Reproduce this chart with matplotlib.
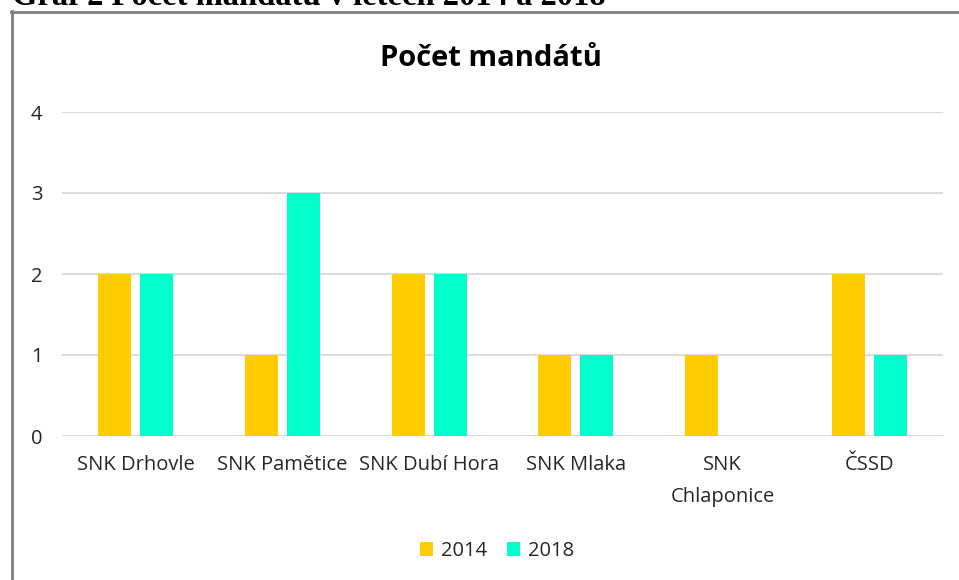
import matplotlib
matplotlib.use("Agg")
import matplotlib.pyplot as plt
import numpy as np

plt.rcParams['font.family'] = ['Open Sans', 'DejaVu Sans']

categories = ["SNK Drhovle", "SNK Pamětice", "SNK Dubí Hora", "SNK Mlaka", "SNK\nChlaponice", "ČSSD"]
values_2014 = [2, 1, 2, 1, 1, 2]
values_2018 = [2, 3, 2, 1, 0, 1]
series_labels = ["2014", "2018"]
y_ticks = [0, 1, 2, 3, 4]

fig = plt.figure(figsize=(9.59, 5.8), dpi=100)
W, H = 959, 580

# outer frame (left and top border visible)
fig.add_artist(plt.Line2D([11.5 / W, 11.5 / W], [0, 1 - 11 / H], color='#7f7f7f', lw=2, transform=fig.transFigure))
fig.add_artist(plt.Line2D([11 / W, 1], [1 - 11.5 / H, 1 - 11.5 / H], color='#7f7f7f', lw=2, transform=fig.transFigure))

# cut-off caption at top
fig.text(12 / W, 1 - 5 / H, "Graf 2 Počet mandátů v letech 2014 a 2018", family=['Liberation Serif'],
         fontsize=23.5, fontweight='bold', ha='left', va='baseline', color='black')

ax = fig.add_axes([62 / W, 1 - 436 / H, (943 - 62) / W, (436 - 112) / H])
x = np.arange(len(categories))
w = 0.225
off = 0.143
ax.bar(x - off, values_2014, w, color='#FFCC00', label=series_labels[0], zorder=3)
ax.bar(x + off, values_2018, w, color='#00FFCC', label=series_labels[1], zorder=3)

ax.set_xlim(-0.5, len(categories) - 0.5)
ax.set_ylim(0, 4)
ax.set_yticks(y_ticks)
ax.set_yticklabels([str(t) for t in y_ticks])
ax.set_xticks(x)
ax.set_xticklabels(categories, linespacing=1.75)
ax.grid(axis='y', color='#D9D9D9', lw=1.3, zorder=0)
for s in ax.spines.values():
    s.set_visible(False)
ax.tick_params(axis='both', length=0, labelsize=14.5, colors='#262626')
ax.tick_params(axis='y', pad=14)
ax.tick_params(axis='x', pad=14)
for lbl in ax.get_xticklabels():
    lbl.set_verticalalignment('top')

fig.text(491 / W, 1 - 58 / H, "Počet mandátů", ha='center', va='center', fontsize=21,
         fontweight='bold', color='black')

leg = fig.legend(loc='center', bbox_to_anchor=(497 / W, 1 - 551 / H), ncol=2, frameon=False,
                 fontsize=14.5, handlelength=0.65, handleheight=0.65, handletextpad=0.4,
                 columnspacing=1.0, labelcolor='#262626')

fig.savefig("out.png", dpi=100, facecolor='white')
